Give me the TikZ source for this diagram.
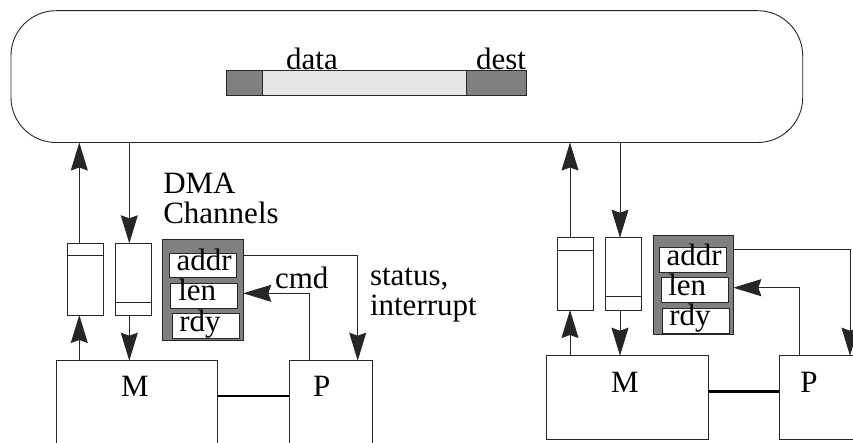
\documentclass[tikz,border=0pt]{standalone}
\usepackage{fontspec}
\setmainfont{Liberation Serif}
\usetikzlibrary{arrows.meta}
\begin{document}
\begin{tikzpicture}[x=1pt,y=-1pt,
  every node/.style={inner sep=0pt, outer sep=0pt},
  box/.style={draw=black!85, line width=0.9pt, fill=white},
  dma/.style={draw=black!85, line width=0.9pt, fill=black!50},
  dark/.style={draw=black!85, line width=0.9pt, fill=black!50},
  light/.style={draw=black!85, line width=0.9pt, fill=black!10},
  lbl/.style={font=\fontsize{31}{31}\selectfont, anchor=base},
  lblw/.style={font=\fontsize{31}{31}\selectfont, anchor=base west},
  arr/.style={draw=black!85, line width=0.9pt, -{Stealth[length=28pt,width=17pt,inset=3pt]}},
  wire/.style={draw=black!85, line width=0.9pt},
  link/.style={draw=black, line width=2.6pt},
]
\useasboundingbox (0,0) rectangle (853,443);
\clip (0,0) rectangle (853,443);

% bus
\node[box, rounded corners=45pt, minimum width=791.7pt, minimum height=131.8pt] (bus) at (406.85,76.6) {};
\node[dark, minimum width=36pt, minimum height=24.3pt] (hdr) at (244.7,82.85) {};
\node[light, minimum width=204pt, minimum height=24.3pt] (pay) at (364.7,82.85) {};
\node[dark, minimum width=59.3pt, minimum height=24.3pt] (dst) at (496.35,82.85) {};
\node[lbl] (tdata) at (312,70) {data};
\node[lbl] (tdest) at (501,70) {dest};

% ---- left node ----
\node[box, minimum width=36pt, minimum height=71.7pt] (fA1) at (85.3,279.15) {};
\node[box, minimum width=36.4pt, minimum height=71.7pt] (fA2) at (133.5,279.15) {};
\draw[wire] ([yshift=-12.4pt]fA1.north west) -- ([yshift=-12.4pt]fA1.north east);
\draw[wire] ([yshift=13pt]fA2.south west) -- ([yshift=13pt]fA2.south east);
\node[dma, minimum width=80.6pt, minimum height=101.4pt] (dmaL) at (203,290) {};
\node[box, minimum width=67.4pt, minimum height=24pt] (addrL) at (203,265.3) {};
\node[box, minimum width=66.6pt, minimum height=25pt] (lenL) at (204,295.8) {};
\node[box, minimum width=67pt, minimum height=25.4pt] (rdyL) at (205.5,326) {};
\node[lblw] (taddrL) at ([shift={(7.4,-6.6)}]addrL.south west) {addr};
\node[lblw] (tlenL) at ([shift={(7.6,-7.3)}]lenL.south west) {len};
\node[lblw] (trdyL) at ([shift={(7.3,-7)}]rdyL.south west) {rdy};
\node[box, minimum width=161pt, minimum height=99.3pt] (mL) at (137.2,410.35) {};
\node[box, minimum width=83.7pt, minimum height=99.3pt] (pL) at (330.85,410.35) {};
\node[lbl] (tmL) at (135,396.7) {M};
\node[lbl] (tpL) at (321.7,396.7) {P};
\node[lblw] (tdma) at (163.3,193.3) {DMA};
\node[lblw] (tchan) at (163.3,224) {Channels};
\node[lblw] (tcmdL) at (275,289) {cmd};
\node[lblw] (tstat) at (370,285.7) {status,};
\node[lblw] (tint) at (370,316) {interrupt};

\draw[arr] ([xshift=-6pt]fA1.north) -- ([xshift=-6pt]fA1.north |- bus.south);
\draw[arr] ([xshift=-4.2pt]fA2.north |- bus.south) -- ([xshift=-4.2pt]fA2.north);
\draw[arr] ([xshift=-6pt]fA1.south |- mL.north) -- ([xshift=-6pt]fA1.south);
\draw[arr] ([xshift=-4.2pt]fA2.south) -- ([xshift=-4.2pt]fA2.south |- mL.north);
\draw[arr] ([yshift=-15.7pt]dmaL.north east) -| ([xshift=-15pt]pL.north east);
\draw[arr] ([xshift=20.3pt]pL.north west) |- ([yshift=2.5pt]dmaL.east |- lenL.center);
\draw[link] ([yshift=-35.3pt]mL.north east) -- ([yshift=-35.3pt]mL.north east -| pL.west);

% ---- right node ----
\node[box, minimum width=36.4pt, minimum height=72.3pt] (fB1) at (575.5,273.85) {};
\node[box, minimum width=36pt, minimum height=72.3pt] (fB2) at (623.7,273.85) {};
\draw[wire] ([yshift=-12.3pt]fB1.north west) -- ([yshift=-12.3pt]fB1.north east);
\draw[wire] ([yshift=13.7pt]fB2.south west) -- ([yshift=13.7pt]fB2.south east);
\node[dma, minimum width=80pt, minimum height=99.3pt] (dmaR) at (693.3,284.65) {};
\node[box, minimum width=67.4pt, minimum height=25pt] (addrR) at (693,260.2) {};
\node[box, minimum width=67.3pt, minimum height=25pt] (lenR) at (694.65,290.2) {};
\node[box, minimum width=66.6pt, minimum height=25pt] (rdyR) at (696,320.8) {};
\node[lblw] (taddrR) at ([shift={(7.4,-6.7)}]addrR.south west) {addr};
\node[lblw] (tlenR) at ([shift={(7.3,-6.7)}]lenR.south west) {len};
\node[lblw] (trdyR) at ([shift={(6.6,-8)}]rdyR.south west) {rdy};
\node[box, minimum width=161.6pt, minimum height=83.6pt] (mR) at (627.5,397.5) {};
\node[box, minimum width=91pt, minimum height=83.6pt] (pR) at (824.5,397.5) {};
\node[lbl] (tmR) at (625,392.3) {M};
\node[lbl] (tpR) at (809,392.3) {P};

\draw[arr] ([xshift=-5.5pt]fB1.north) -- ([xshift=-5.5pt]fB1.north |- bus.south);
\draw[arr] ([xshift=-3.7pt]fB2.north |- bus.south) -- ([xshift=-3.7pt]fB2.north);
\draw[arr] ([xshift=-5.5pt]fB1.south |- mR.north) -- ([xshift=-5.5pt]fB1.south);
\draw[arr] ([xshift=-3.7pt]fB2.south) -- ([xshift=-3.7pt]fB2.south |- mR.north);
\draw[arr] ([yshift=-14.3pt]dmaR.north east) -| ([xshift=71pt]pR.north west);
\draw[arr] ([xshift=20.3pt]pR.north west) |- ([yshift=2.5pt]dmaR.east |- lenR.center);
\draw[link] ([yshift=-36pt]mR.north east) -- ([yshift=-36pt]mR.north east -| pR.west);
\end{tikzpicture}
\end{document}
